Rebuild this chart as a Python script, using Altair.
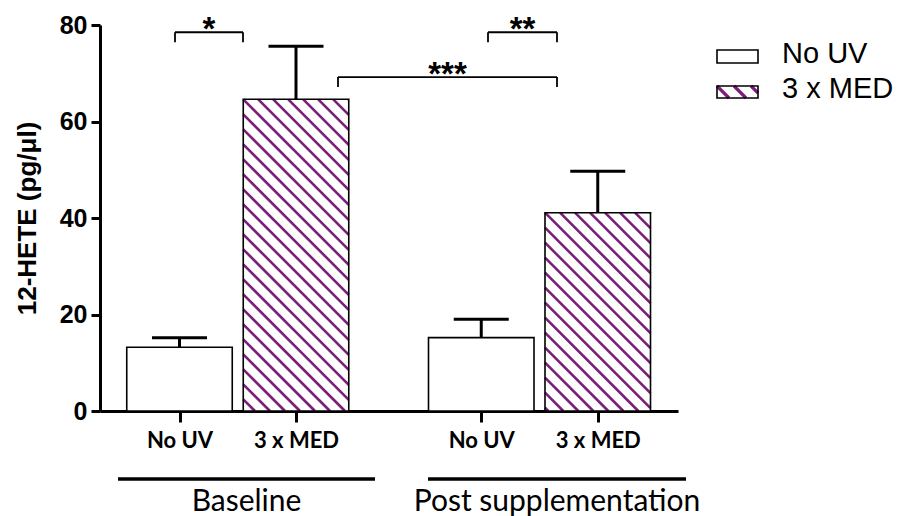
import altair as alt
import pandas as pd

# ---------------- data ----------------
groups = ["Baseline", "Post supplementation"]
conditions = ["No UV", "3 x MED"]
means = [13.2, 64.6, 15.2, 41.1]          # bar heights (pg/ul)
sems = [2.0, 11.0, 3.8, 8.6]              # upper error (SEM)
y_ticks = [0, 20, 40, 60, 80]
sig_labels = ["*", "**", "***"]
sig_levels = [78.5, 78.5, 69.2]           # bracket heights in data units
y_title = "12-HETE (pg/\u03bcl)"

# ---------------- layout / style ----------------
W, H = 578, 386
YMAX = 80
K = H / YMAX                               # px per data unit
GROUP_C = [137.75, 439.5]
BAR_OFF = 58.25
BAR_W = 105.5
CAP_HALF = 27.5
HATCH_STEP = 15
LEG_HATCH_STEP = 17
SIG_X = [(75, 143), (388, 457), (238, 457)]
SIG_DROP = 10 / K
GROUP_LINE = [(18, 275), (328, 586)]
LEG_X = (617, 658)
LEG_Y = [(25, 38), (61, 73)]              # px from plot top
LEG_TX = 682
PURPLE = "#7a1f7a"

def px_to_val(p):
    return (H - p) / K

# bar table
rows = []
for gi, g in enumerate(groups):
    for ci, c in enumerate(conditions):
        i = gi * 2 + ci
        xc = GROUP_C[gi] + (ci - 0.5) * 2 * BAR_OFF
        rows.append(dict(group=g, cond=c, xc=xc, x0=xc - BAR_W / 2, x1=xc + BAR_W / 2,
                         y0=0.0, mean=means[i], upper=means[i] + sems[i],
                         c0=xc - CAP_HALF, c1=xc + CAP_HALF))
bars = pd.DataFrame(rows)

def hatch(x0, x1, v0, v1, step, width):
    Y0, Y1 = v0 * K, v1 * K
    segs = []
    c = x0 + Y1
    while c - step > x0 + Y0:
        c -= step
    while c < x1 + Y1:
        xa = max(x0, c - Y1)
        xb = min(x1, c - Y0)
        if xb > xa:
            segs.append(dict(x=xa, x2=xb, y=(c - xa) / K, y2=(c - xb) / K, w=width))
        c += step
    return segs

hrows = []
for r in rows:
    if r["cond"] == conditions[1]:
        hrows += hatch(r["x0"], r["x1"], 0.0, r["mean"], HATCH_STEP, 2.6)
# legend hatch
ly0, ly1 = LEG_Y[1]
hrows += hatch(LEG_X[0], LEG_X[1], px_to_val(ly1), px_to_val(ly0), LEG_HATCH_STEP, 3.2)
hatch_df = pd.DataFrame(hrows)

# significance brackets
brows, trows = [], []
for lab, lev, (a, b) in zip(sig_labels, sig_levels, SIG_X):
    brows.append(dict(x=a, x2=b, y=lev, y2=lev))
    brows.append(dict(x=a, x2=a, y=lev, y2=lev - SIG_DROP))
    brows.append(dict(x=b, x2=b, y=lev, y2=lev - SIG_DROP))
    trows.append(dict(x=(a + b) / 2, y=lev, label=lab))
br_df = pd.DataFrame(brows)
st_df = pd.DataFrame(trows)

grp_df = pd.DataFrame([dict(x=a, x2=b, xc=(a + b) / 2, label=g)
                       for g, (a, b) in zip(groups, GROUP_LINE)])

leg_df = pd.DataFrame([dict(x=LEG_X[0], x2=LEG_X[1], y=px_to_val(b), y2=px_to_val(a),
                            tx=LEG_TX, label=c)
                       for c, (a, b) in zip(conditions, LEG_Y)])

xscale = alt.Scale(domain=[0, W], nice=False, zero=False)
yscale = alt.Scale(domain=[0, YMAX], nice=False, zero=False)

label_expr = " : ".join(
    f"abs(datum.value - {r['xc']}) < 1 ? '{r['cond']}'" for r in rows) + " : ''"

xaxis = alt.Axis(values=[r["xc"] for r in rows], labelExpr=label_expr, title="",
                 grid=False, domainWidth=3, domainColor="black", tickWidth=3,
                 tickColor="black", tickSize=11, labelFont="Lato", labelFontWeight="bold",
                 labelFontSize=22, labelColor="black", labelPadding=8, labelAngle=0,
                 labelFlush=False, labelOverlap=False)
yaxis = alt.Axis(values=y_ticks, title=y_title, grid=False, domainWidth=3,
                 domainColor="black", tickWidth=3, tickColor="black", tickSize=9,
                 labelFont="Liberation Sans", labelFontWeight="bold", labelFontSize=25,
                 labelColor="black", labelPadding=4, titleFont="Liberation Sans",
                 titleFontSize=26, titleFontWeight="bold", titleColor="black",
                 titlePadding=19)

base = alt.Chart(bars)
bar_fill = base.mark_rect(fill="white", strokeWidth=0).encode(
    x=alt.X("x0:Q", scale=xscale, axis=xaxis), x2="x1:Q",
    y=alt.Y("y0:Q", scale=yscale, axis=yaxis), y2="mean:Q")

leg_fill = alt.Chart(leg_df).mark_rect(fill="white", strokeWidth=0).encode(
    x="x:Q", x2="x2:Q", y="y:Q", y2="y2:Q")

hatch_layer = alt.Chart(hatch_df).mark_rule(color=PURPLE).encode(
    x="x:Q", x2="x2:Q", y="y:Q", y2="y2:Q",
    strokeWidth=alt.StrokeWidth("w:Q", scale=None))

bar_outline = base.mark_rect(fillOpacity=0, stroke="black", strokeWidth=1.6).encode(
    x="x0:Q", x2="x1:Q", y="y0:Q", y2="mean:Q")

stem = base.mark_rule(color="black", strokeWidth=3).encode(
    x="xc:Q", y="mean:Q", y2="upper:Q")
cap = base.mark_rule(color="black", strokeWidth=3).encode(
    x="c0:Q", x2="c1:Q", y="upper:Q")

brackets = alt.Chart(br_df).mark_rule(color="black", strokeWidth=1.8).encode(
    x="x:Q", x2="x2:Q", y="y:Q", y2="y2:Q")
stars = alt.Chart(st_df).mark_text(font="Liberation Sans", fontWeight="bold", fontSize=33,
                                   baseline="alphabetic", dy=8, color="black").encode(
    x="x:Q", y="y:Q", text="label:N")

grp_lines = alt.Chart(grp_df).mark_rule(color="black", strokeWidth=3.5).encode(
    x="x:Q", x2="x2:Q", y=alt.value(454))
grp_text = alt.Chart(grp_df).mark_text(font="Lato", fontSize=30, baseline="alphabetic",
                                       color="black").encode(
    x="xc:Q", y=alt.value(486), text="label:N")

leg_box = alt.Chart(leg_df).mark_rect(fillOpacity=0, stroke="black", strokeWidth=1.6).encode(
    x="x:Q", x2="x2:Q", y="y:Q", y2="y2:Q")
leg_text = alt.Chart(leg_df).mark_text(font="Liberation Sans", fontSize=29, align="left",
                                       baseline="alphabetic", color="black").encode(
    x="tx:Q", y="y:Q", text="label:N")

chart = alt.layer(
    bar_fill, leg_fill, hatch_layer, bar_outline, stem, cap, brackets, stars,
    grp_lines, grp_text, leg_box, leg_text
).properties(
    width=W, height=H,
    autosize=alt.AutoSizeParams(type="none"),
    padding={"left": 100, "top": 25, "right": 904 - 100 - W, "bottom": 516 - 25 - H},
    background="white",
).configure_view(stroke=None)

chart.save("out.html", embed_options={"renderer": "svg", "actions": False})
